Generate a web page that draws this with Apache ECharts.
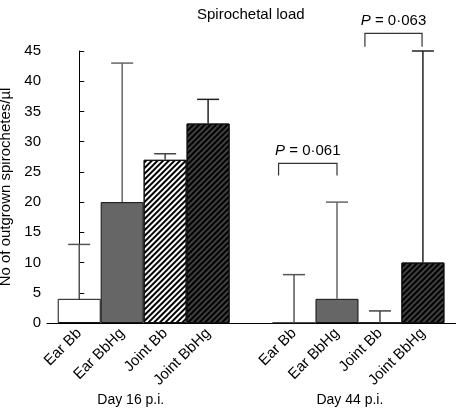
<!DOCTYPE html>
<html>
<head>
<meta charset="utf-8">
<script src="https://cdn.jsdelivr.net/npm/echarts@6/dist/echarts.min.js"></script>
<style>html,body{margin:0;padding:0;background:#fff;}#c{width:456px;height:410px;}</style>
</head>
<body>
<div id="c"></div>
<script>
// ---- data ----
const categories = ['Ear Bb', 'Ear BbHg', 'Joint Bb', 'Joint BbHg'];
const groups = ['Day 16 p.i.', 'Day 44 p.i.'];
const day16Mean = [4, 20, 27, 33];
const day16Upper = [13, 43, 28, 37];
const day44Mean = [0, 4, 0, 10];
const day44Upper = [8, 20, 2, 45];
const sigLabels = ['0·061', '0·063'];
const sigFrom = [4.64, 6.65];
const sigTo = [6.0, 7.98];
const sigTop = [26.4, 47.9];
const sigLeg = [24.4, 45.7];

const FONT = 'Liberation Sans, Arial, Helvetica, sans-serif';
const groupStart = [0, 5];
const groupLabelPos = [1.2, 6.3];

const hatch = {symbol: 'rect', symbolSize: 1, dashArrayX: [1, 0], dashArrayY: [1.6, 2.0], rotation: -Math.PI / 4, color: '#000'};
const barStyles = [
  {color: '#ffffff', borderColor: '#111', borderWidth: 1},
  {color: '#666666', borderColor: '#111', borderWidth: 1},
  {color: '#ffffff', borderColor: '#111', borderWidth: 1, decal: hatch},
  {color: '#404040', borderColor: '#111', borderWidth: 1, decal: hatch}
];
const errColors = ['#555', '#666', '#444', '#222'];

const barData = [];
const errData = [];
[[day16Mean, day16Upper], [day44Mean, day44Upper]].forEach(function (g, gi) {
  categories.forEach(function (c, i) {
    const x = groupStart[gi] + i;
    barData.push({value: [x, g[0][i]], itemStyle: barStyles[i]});
    errData.push([x, g[0][i], g[1][i], i]);
  });
});
const sigData = sigLabels.map(function (l, i) { return [sigFrom[i], sigTo[i], sigTop[i], sigLeg[i], i]; });

const labelPos = [];
groupStart.forEach(function (s) { categories.forEach(function (c, i) { labelPos.push(s + i); }); });

const chart = echarts.init(document.getElementById('c'), null, {renderer: 'canvas'});
chart.setOption({
  animation: false,
  textStyle: {fontFamily: FONT},
  title: {
    text: 'Spirochetal load', left: 192, top: 2,
    textStyle: {fontFamily: FONT, fontSize: 15, fontWeight: 'normal', color: '#000'}
  },
  grid: {left: 47, right: 0, top: 51, bottom: 87, containLabel: false, outerBoundsMode: 'none'},
  xAxis: [{
    type: 'value', min: -0.75, max: 8.77,
    axisLine: {show: true, onZero: false, lineStyle: {color: '#000', width: 1}},
    axisTick: {show: false},
    splitLine: {show: false},
    axisLabel: {
      customValues: labelPos, rotate: 45, margin: 8, padding: [12, 0, 0, 0],
      fontFamily: FONT, fontSize: 15, color: '#000',
      formatter: function (v) { return categories[Math.round(v) % 5]; }
    }
  }, {
    type: 'value', min: -0.75, max: 8.77, position: 'bottom', offset: 62,
    axisLine: {show: false}, axisTick: {show: false}, splitLine: {show: false},
    axisLabel: {
      customValues: groupLabelPos, margin: 8,
      fontFamily: FONT, fontSize: 14, color: '#000',
      formatter: function (v) { return v < 4 ? groups[0] : groups[1]; }
    }
  }],
  yAxis: {
    type: 'value', min: 0, max: 45, interval: 5,
    name: 'No of outgrown spirochetes/µl', nameLocation: 'middle', nameGap: 32,
    nameTextStyle: {fontFamily: FONT, fontSize: 15, color: '#000'},
    axisLine: {show: true, lineStyle: {color: '#000', width: 1}},
    axisTick: {show: true, inside: true, length: 5, lineStyle: {color: '#000'}},
    splitLine: {show: false},
    axisLabel: {fontFamily: FONT, fontSize: 15, color: '#000', margin: 6}
  },
  series: [{
    type: 'bar', xAxisIndex: 0, data: barData, barWidth: 43, z: 2
  }, {
    type: 'custom', xAxisIndex: 0, data: errData, z: 3,
    renderItem: function (params, api) {
      const p0 = api.coord([api.value(0), api.value(1)]);
      const p1 = api.coord([api.value(0), api.value(2)]);
      const st = {stroke: errColors[api.value(3)], lineWidth: 1.5};
      return {type: 'group', children: [
        {type: 'line', shape: {x1: p0[0], y1: p0[1], x2: p1[0], y2: p1[1]}, style: st},
        {type: 'line', shape: {x1: p1[0] - 11, y1: p1[1], x2: p1[0] + 11, y2: p1[1]}, style: st}
      ]};
    }
  }, {
    type: 'custom', xAxisIndex: 0, data: sigData, z: 3, clip: false,
    renderItem: function (params, api) {
      const a = api.coord([api.value(0), api.value(3)]);
      const b = api.coord([api.value(0), api.value(2)]);
      const c = api.coord([api.value(1), api.value(2)]);
      const d = api.coord([api.value(1), api.value(3)]);
      const idx = api.value(4);
      return {type: 'group', children: [
        {type: 'polyline', shape: {points: [a, b, c, d]}, style: {stroke: '#333', lineWidth: 1.2, fill: null}},
        {type: 'text', style: {
          text: '{i|P} = ' + sigLabels[idx], x: (b[0] + c[0]) / 2, y: b[1] - 13,
          align: 'center', verticalAlign: 'middle',
          font: '15px ' + FONT, fill: '#000',
          rich: {i: {fontStyle: 'italic', fontSize: 15, fontFamily: FONT}}
        }}
      ]};
    }
  }]
});
</script>
</body>
</html>
